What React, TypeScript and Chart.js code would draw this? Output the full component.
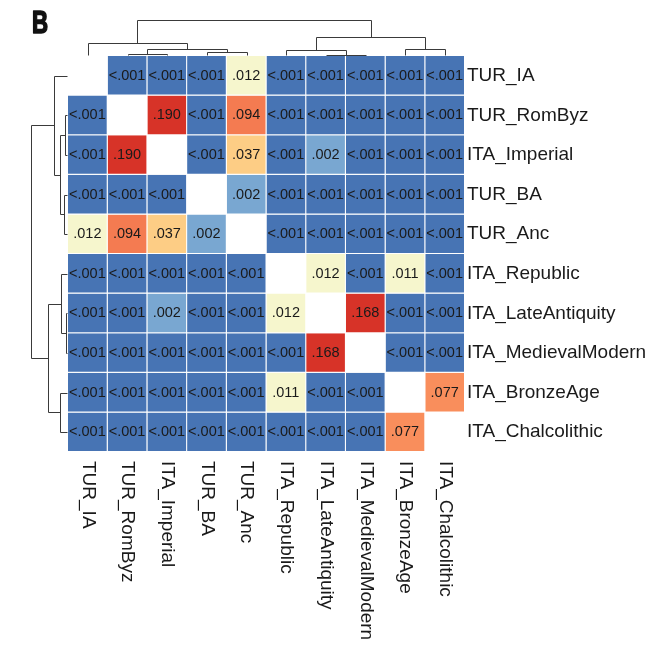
import React, { useEffect, useRef } from "react";
import { Chart, registerables } from "chart.js";

Chart.register(...registerables);

// Group order (same for rows and columns)
const groups = [
  "TUR_IA",
  "TUR_RomByz",
  "ITA_Imperial",
  "TUR_BA",
  "TUR_Anc",
  "ITA_Republic",
  "ITA_LateAntiquity",
  "ITA_MedievalModern",
  "ITA_BronzeAge",
  "ITA_Chalcolithic",
];

// p-values per row; 0 stands for "<.001", null is the diagonal
const pTUR_IA = [null, 0, 0, 0, 0.012, 0, 0, 0, 0, 0];
const pTUR_RomByz = [0, null, 0.19, 0, 0.094, 0, 0, 0, 0, 0];
const pITA_Imperial = [0, 0.19, null, 0, 0.037, 0, 0.002, 0, 0, 0];
const pTUR_BA = [0, 0, 0, null, 0.002, 0, 0, 0, 0, 0];
const pTUR_Anc = [0.012, 0.094, 0.037, 0.002, null, 0, 0, 0, 0, 0];
const pITA_Republic = [0, 0, 0, 0, 0, null, 0.012, 0, 0.011, 0];
const pITA_LateAntiquity = [0, 0, 0.002, 0, 0, 0.012, null, 0.168, 0, 0];
const pITA_MedievalModern = [0, 0, 0, 0, 0, 0, 0.168, null, 0, 0];
const pITA_BronzeAge = [0, 0, 0, 0, 0, 0.011, 0, 0, null, 0.077];
const pITA_Chalcolithic = [0, 0, 0, 0, 0, 0, 0, 0, 0.077, null];

const pValues = [
  pTUR_IA,
  pTUR_RomByz,
  pITA_Imperial,
  pTUR_BA,
  pTUR_Anc,
  pITA_Republic,
  pITA_LateAntiquity,
  pITA_MedievalModern,
  pITA_BronzeAge,
  pITA_Chalcolithic,
];

// Dendrogram (shared by rows and columns): node ids 0-9 are leaves, 10+k is merge k
const mergeA = [6, 1, 3, 5, 8, 11, 0, 13, 16];
const mergeB = [7, 2, 4, 10, 9, 12, 15, 14, 17];
const mergeHeight = [1, 2, 3.5, 5.8, 7, 6.6, 13.3, 18.6, 36.3];

const FONT = '"Liberation Sans", Arial, Helvetica, sans-serif';
const TEXT = "#1a1a1a";

function cellColor(v: number | null): string {
  if (v === null) return "rgba(0,0,0,0)";
  if (v < 0.001) return "#4774b4";
  if (v < 0.005) return "#79a7d1";
  if (v < 0.02) return "#f6f6cd";
  if (v < 0.05) return "#fdcd85";
  if (v < 0.085) return "#f98e5c";
  if (v < 0.12) return "#f47b51";
  return "#d73328";
}

function fmt(v: number): string {
  if (v < 0.001) return "<.001";
  return v.toFixed(3).replace(/^0/, "");
}

function drawDendro(
  ctx: CanvasRenderingContext2D,
  pos: (leaf: number) => number,
  hp: (h: number) => number,
  leafEnd: number,
  vertical: boolean
) {
  const center = (n: number): number =>
    n < 10 ? pos(n) : (center(mergeA[n - 10]) + center(mergeB[n - 10])) / 2;
  const level = (n: number): number => (n < 10 ? leafEnd : hp(mergeHeight[n - 10]));
  const snap = (v: number) => Math.round(v) + 0.5;
  const line = (a: number, b: number, c: number, d: number) => {
    ctx.beginPath();
    if (vertical) {
      ctx.moveTo(snap(a), snap(b));
      ctx.lineTo(snap(c), snap(d));
    } else {
      ctx.moveTo(snap(b), snap(a));
      ctx.lineTo(snap(d), snap(c));
    }
    ctx.stroke();
  };
  for (let k = 0; k < mergeA.length; k++) {
    const a = mergeA[k];
    const b = mergeB[k];
    const ca = center(a);
    const cb = center(b);
    const L = hp(mergeHeight[k]);
    line(ca, L, cb, L);
    line(ca, L, ca, level(a));
    line(cb, L, cb, level(b));
  }
}

const overlay = {
  id: "overlay",
  afterDraw(chart: any) {
    const ctx: CanvasRenderingContext2D = chart.ctx;
    const xs = chart.scales.x;
    const ys = chart.scales.yl;
    const area = chart.chartArea;
    ctx.save();

    // cell labels
    ctx.font = `14.5px ${FONT}`;
    ctx.fillStyle = TEXT;
    ctx.textAlign = "center";
    ctx.textBaseline = "middle";
    chart.data.datasets.forEach((_ds: any, i: number) => {
      const meta = chart.getDatasetMeta(i);
      meta.data.forEach((el: any, j: number) => {
        const v = pValues[i][j];
        if (v === null) return;
        const { x, y, base } = el.getProps(["x", "y", "base"], true);
        ctx.fillText(fmt(v), x - 0.5, (y + base) / 2);
      });
    });

    // bottom (rotated) labels
    ctx.font = `19px ${FONT}`;
    ctx.textAlign = "left";
    ctx.textBaseline = "middle";
    groups.forEach((g, j) => {
      const x = xs.getPixelForValue(j);
      ctx.save();
      ctx.translate(x, area.bottom + 9);
      ctx.rotate(Math.PI / 2);
      ctx.fillText(g, 0, 0);
      ctx.restore();
    });

    // dendrograms
    ctx.strokeStyle = "#3a3a3a";
    ctx.lineWidth = 1;
    drawDendro(
      ctx,
      (n) => xs.getPixelForValue(n),
      (h) => area.top - 0.5 - h * 0.97,
      area.top - 1,
      true
    );
    drawDendro(
      ctx,
      (n) => ys.getPixelForValue(n),
      (h) => area.left - 1 - h,
      area.left - 1,
      false
    );

    // panel letter
    ctx.save();
    ctx.fillStyle = "#111";
    ctx.strokeStyle = "#111";
    ctx.lineWidth = 1.6;
    ctx.lineJoin = "round";
    ctx.font = `bold 31px ${FONT}`;
    ctx.textAlign = "left";
    ctx.textBaseline = "alphabetic";
    ctx.translate(32, 33);
    ctx.scale(0.72, 1);
    ctx.fillText("B", 0, 0);
    ctx.strokeText("B", 0, 0);
    ctx.restore();

    ctx.restore();
  },
};

export default function App() {
  const ref = useRef<HTMLCanvasElement>(null);
  useEffect(() => {
    const chart = new Chart(ref.current as HTMLCanvasElement, {
      type: "bar",
      data: {
        labels: groups,
        datasets: groups.map((g, i) => ({
          label: g,
          data: groups.map((_c, j) => (pValues[i][j] === null ? null : [i, i + 1])) as any,
          backgroundColor: groups.map((_c, j) => cellColor(pValues[i][j])),
          borderColor: "#ffffff",
          borderWidth: { top: 0, left: 0, right: 1, bottom: 1 },
          borderSkipped: false,
          inflateAmount: 0,
          barPercentage: 1,
          categoryPercentage: 1,
          grouped: false,
          xAxisID: "x",
          yAxisID: "y",
        })),
      },
      options: {
        responsive: false,
        animation: false,
        events: [],
        layout: { padding: { left: 68, top: 56, right: 0, bottom: 0 } },
        plugins: {
          legend: { display: false },
          tooltip: { enabled: false },
          title: { display: false },
        },
        scales: {
          x: {
            type: "category",
            offset: true,
            grid: { display: false, drawTicks: false },
            border: { display: false },
            ticks: { display: false },
            afterFit: (s: any) => {
              s.height = 208;
            },
          },
          y: {
            type: "linear",
            display: false,
            min: 0,
            max: groups.length,
            reverse: true,
          },
          yl: {
            type: "category",
            labels: groups,
            position: "right",
            offset: true,
            grid: { display: false, drawTicks: false },
            border: { display: false },
            ticks: {
              padding: 2,
              color: TEXT,
              font: { size: 19, family: FONT },
              autoSkip: false,
            },
            afterFit: (s: any) => {
              s.width = 207;
            },
          },
        } as any,
      },
      plugins: [overlay],
    });
    return () => chart.destroy();
  }, []);
  return (
    <div style={{ position: "absolute", left: 0, top: 0, width: 672, height: 660, background: "#fff" }}>
      <canvas ref={ref} width={672} height={660} style={{ display: "block" }} />
    </div>
  );
}
